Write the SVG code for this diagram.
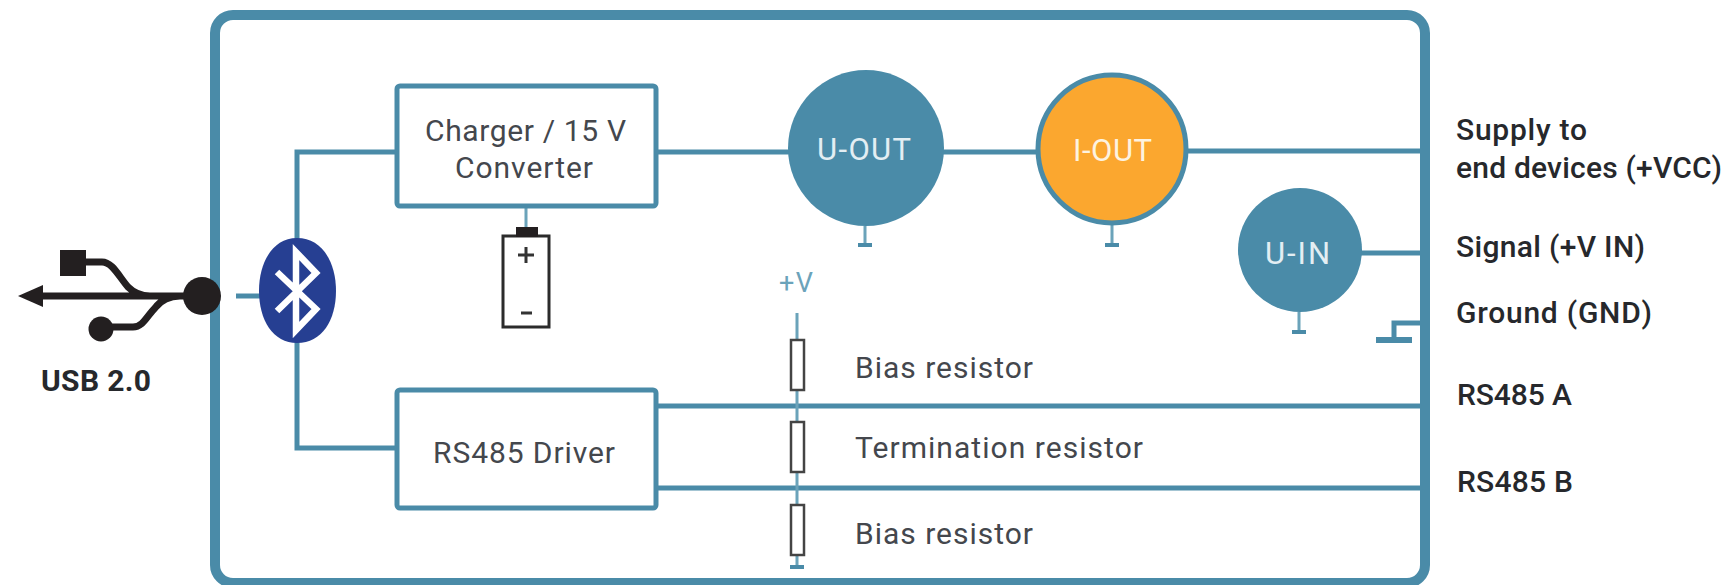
<svg xmlns="http://www.w3.org/2000/svg" width="1728" height="585" viewBox="0 0 1728 585">
<style>
text{font-family:Roboto,"Liberation Sans",sans-serif}
.t{font-size:30px;fill:#44474d}
.b{font-size:30px;font-weight:500;fill:#26282c}
.w{font-size:31px;fill:#e3eef3}
.l{fill:none;stroke:#4a8ba8;stroke-width:5}
.thin{fill:none;stroke:#6ba3ba;stroke-width:3}
.box{fill:#fff;stroke:#4a8ba8;stroke-width:5}
.res{fill:#fff;stroke:#444;stroke-width:2.5}
.k{fill:#231f20}
</style>
<rect width="1728" height="585" fill="#fff"/>
<g id="frame"><rect x="215" y="15" width="1210" height="568" rx="18" fill="none" stroke="#4a8ba8" stroke-width="10"/></g>
<g id="connectors">
<path class="l" d="M396 152H297V448H396"/>
<path class="l" d="M236 296H262"/>
<path class="l" d="M657 152H800M930 152H1040M1185 151H1420"/>
<path class="l" d="M1360 253H1420"/>
<path class="l" d="M1420 323H1394V340"/>
<path d="M1376 340H1412" fill="none" stroke="#4a8ba8" stroke-width="6"/>
<path class="l" d="M657 406H1420M657 488H1420"/>
<path class="thin" d="M797 313V565M526 207V228"/>
<path class="thin" d="M865 226V245M1112 224V245M1299 312V332"/>
<path d="M858 245H872M1105 245H1119M1292 332H1306M790 567H804" fill="none" stroke="#4a8ba8" stroke-width="4"/>
</g>
<g id="usb">
<rect class="k" x="60" y="250" width="26" height="26"/>
<circle class="k" cx="202" cy="296" r="19"/>
<circle class="k" cx="101" cy="329" r="12.5"/>
<path class="k" d="M18 296L43 285V307Z"/>
<path d="M40 296H190M84 262H102C112 262 118 275 128 287C133 292 140 296 150 296M110 327H133C143 327 147 316 155 308C161 300 170 296 180 296" fill="none" stroke="#231f20" stroke-width="7"/>
<text class="b" x="41" y="391" style="font-weight:700" textLength="110">USB 2.0</text>
</g>
<g id="bluetooth">
<path d="M297 238C322 238 336 262 336 291C336 320 322 343 297 343C273 343 259 320 259 291C259 262 273 238 297 238Z" fill="#263f92"/>
<path d="M277 272L316 309L296 330V252L316 273L277 311" fill="none" stroke="#fff" stroke-width="6.5" stroke-linejoin="miter"/>
</g>
<g id="charger">
<rect class="box" x="397" y="86" width="259" height="120" rx="3"/>
<text class="t" x="425" y="141" textLength="201">Charger / 15 V</text>
<text class="t" x="455" y="178" textLength="138">Converter</text>
</g>
<g id="battery">
<rect x="503" y="236" width="46" height="91" fill="#fff" stroke="#2b2b2b" stroke-width="3"/>
<rect class="k" x="516" y="227" width="22" height="10"/>
<path d="M518 255H534M526 247V263M521 313H532" fill="none" stroke="#333" stroke-width="3"/>
</g>
<g id="rs485">
<rect class="box" x="397" y="390" width="259" height="118" rx="3"/>
<text class="t" x="433" y="463" textLength="182">RS485 Driver</text>
</g>
<g id="u-out">
<circle cx="866" cy="148" r="78" fill="#4a8ba8"/>
<text class="w" x="817" y="160" textLength="94">U-OUT</text>
</g>
<g id="i-out">
<circle cx="1112" cy="149" r="74" fill="#fba72f" stroke="#4a8ba8" stroke-width="5"/>
<text class="w" x="1073" y="161" textLength="79" style="fill:#fdf3e0">I-OUT</text>
</g>
<g id="u-in">
<circle cx="1300" cy="250" r="62" fill="#4a8ba8"/>
<text class="w" x="1265" y="264" textLength="65">U-IN</text>
</g>
<g id="resistors">
<text x="779" y="292" font-size="27" fill="#6ba3ba" textLength="34">+V</text>
<rect class="res" x="791" y="340" width="13" height="50"/>
<rect class="res" x="791" y="422" width="13" height="50"/>
<rect class="res" x="791" y="505" width="13" height="50"/>
<text class="t" x="855" y="378" textLength="178">Bias resistor</text>
<text class="t" x="855" y="458" textLength="288">Termination resistor</text>
<text class="t" x="855" y="544" textLength="178">Bias resistor</text>
</g>
<g id="labels">
<text class="b" x="1456" y="140" textLength="131">Supply to</text>
<text class="b" x="1456" y="178" textLength="266">end devices (+VCC)</text>
<text class="b" x="1456" y="257" textLength="189">Signal (+V IN)</text>
<text class="b" x="1456" y="323" textLength="196">Ground (GND)</text>
<text class="b" x="1457" y="405" textLength="115">RS485 A</text>
<text class="b" x="1457" y="492" textLength="116">RS485 B</text>
</g>
</svg>
